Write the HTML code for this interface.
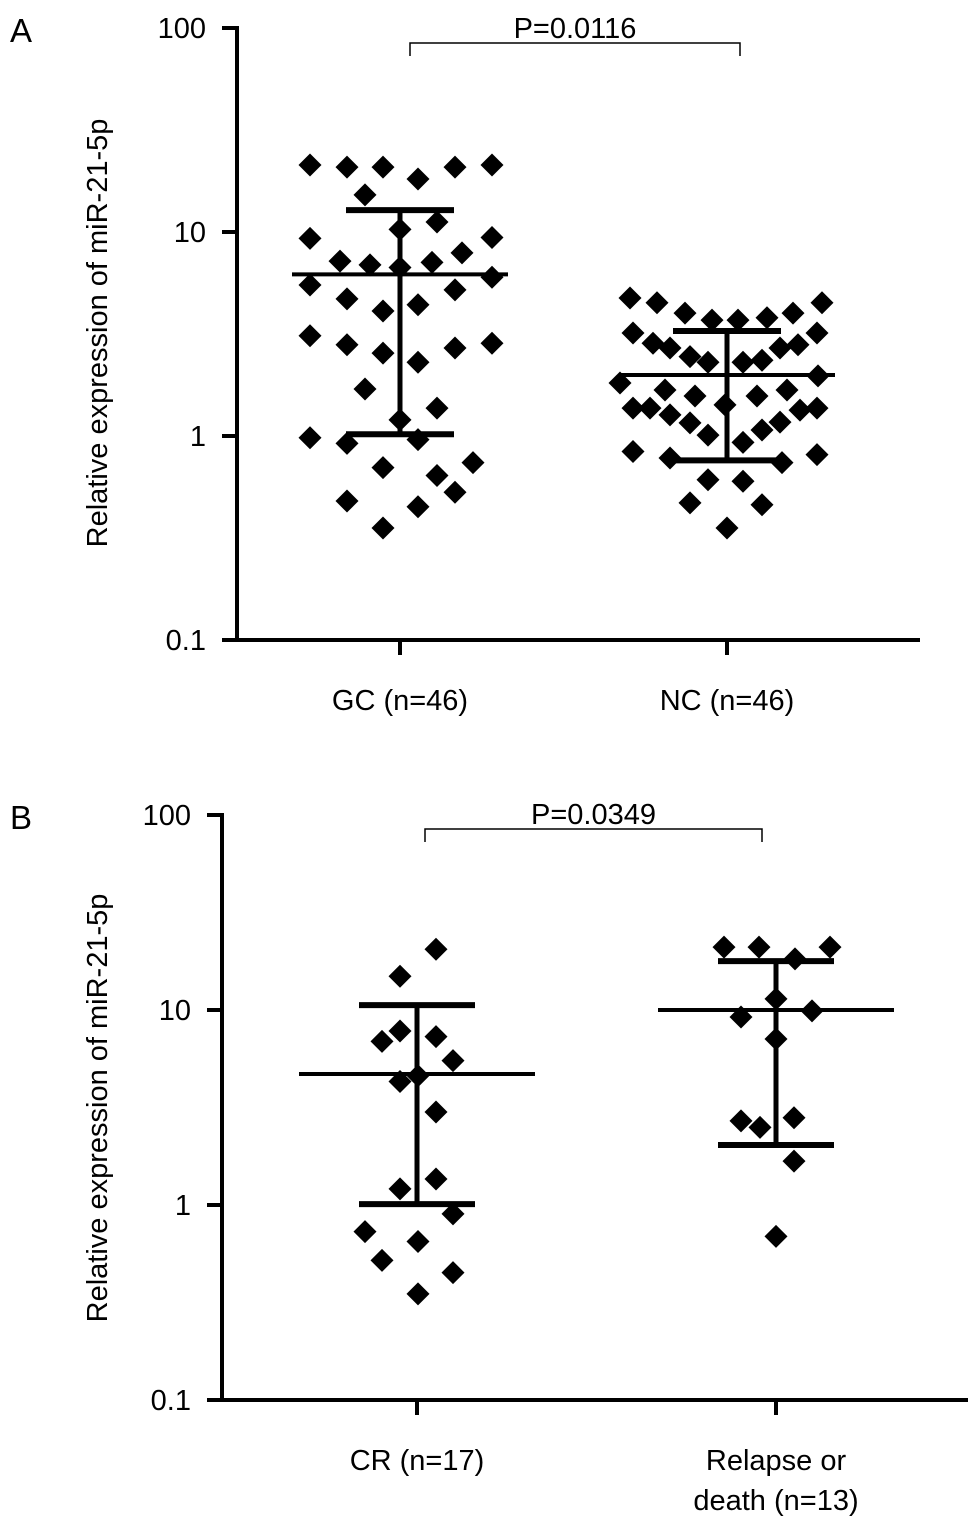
<!DOCTYPE html>
<html><head><meta charset="utf-8"><style>
body{margin:0;background:#fff}
svg{display:block;font-family:"Liberation Sans",Arial,sans-serif}
</style></head><body>
<svg id="fig" width="969" height="1528" viewBox="0 0 969 1528"></svg>
<script>
// Panel A data
const catsA = ["GC (n=46)", "NC (n=46)"];
const gcJitter = [-90,-53,-17,18,55,92,-35,37,0,-90,92,62,-60,-30,0,32,92,-90,55,-53,18,-17,-90,-53,-17,55,92,18,-35,37,0,-90,-53,18,-17,37,73,55,-53,18,-17];
const gcValues = [21.3,20.8,20.8,18.2,20.8,21.3,15.2,11.2,10.3,9.3,9.4,7.9,7.2,6.9,6.7,7.1,6.0,5.5,5.2,4.7,4.4,4.1,3.1,2.8,2.55,2.7,2.85,2.3,1.7,1.37,1.2,0.98,0.92,0.96,0.70,0.64,0.74,0.53,0.48,0.45,0.354];
const ncJitter = [-97,-70,-42,-15,11,40,66,95,-94,-74,-57,-37,-19,16,35,53,71,90,-107,-62,-32,30,60,91,-94,-77,-57,-37,-19,-2,16,35,53,73,90,-94,-57,55,90,-19,16,-37,35,0];
const ncValues = [4.75,4.5,4.0,3.7,3.7,3.8,4.0,4.5,3.2,2.85,2.7,2.45,2.3,2.3,2.35,2.7,2.8,3.2,1.82,1.68,1.57,1.57,1.68,1.97,1.37,1.37,1.27,1.16,1.01,1.42,0.93,1.07,1.17,1.34,1.37,0.84,0.78,0.74,0.81,0.61,0.60,0.47,0.46,0.354];
const summaryA = [[6.2,12.8,1.02],[1.99,3.27,0.76]]; // mean, upper, lower
// Panel B data
const catsB = ["CR (n=17)", "Relapse or|death (n=13)"];
const crJitter = [19,-17,-17,-35,19,36,-17,1,19,19,-17,36,-52,1,-35,36,1];
const crValues = [20.5,14.9,7.8,6.9,7.3,5.5,4.3,4.6,3.0,1.36,1.21,0.90,0.73,0.65,0.52,0.45,0.35];
const rdJitter = [-52,-17,19,54,0,-35,36,0,-35,-16,18,18,0];
const rdValues = [21.0,21.0,18.3,21.0,11.4,9.2,9.9,7.1,2.7,2.5,2.8,1.68,0.69];
const summaryB = [[4.7,10.6,1.01],[10.0,17.8,2.03]];
const yTicks = [100,10,1,0.1];
const yTickLabels = ["100","10","1","0.1"];

const NS="http://www.w3.org/2000/svg";
const svg=document.getElementById('fig');
function mk(tag,attrs,parent){const e=document.createElementNS(NS,tag);for(const k in attrs)e.setAttribute(k,attrs[k]);(parent||svg).appendChild(e);return e;}

function panel(cfg){
  const g=mk('g',{});
  
  
  const y=v=>cfg.y100+(2-Math.log10(v))*cfg.dec;
  const yb=y(0.1);
  const ya=mk('line',{x1:cfg.ax,y1:cfg.y100-2,x2:cfg.ax,y2:yb+2,stroke:'#000','stroke-width':4},g);
  
  
  const xa=mk('line',{x1:cfg.ax-2,y1:yb,x2:cfg.xEnd,y2:yb,stroke:'#000','stroke-width':4},g);
  
  
  yTicks.forEach((t,i)=>{
    const yy=y(t);
    mk('line',{x1:cfg.ax-15,y1:yy,x2:cfg.ax,y2:yy,stroke:'#000','stroke-width':4},g);
    const tx=mk('text',{x:cfg.ax-31,y:yy+10,'text-anchor':'end','font-size':29},g);
    tx.textContent=yTickLabels[i];
    
    
  });
  const tt=mk('text',{x:0,y:0,'text-anchor':'middle','font-size':29,transform:`translate(${cfg.titleX},${cfg.titleY}) rotate(-90)`},g);
  tt.textContent='Relative expression of miR-21-5p';
  
  
  const pl=mk('text',{x:10,y:cfg.y100+14,'font-size':33},g);
  pl.textContent=cfg.letter;
  
  
  cfg.groups.forEach((gr,gi)=>{
    const cx=cfg.cx[gi];
    mk('line',{x1:cx,y1:yb,x2:cx,y2:yb+15,stroke:'#000','stroke-width':4},g);
    const lines=cfg.cats[gi].split('|');
    lines.forEach((ln,li)=>{
      const t=mk('text',{x:cx,y:yb+70+li*40,'text-anchor':'middle','font-size':29},g);
      t.textContent=ln;
      
      
    });
    gr.vals.forEach((v,i)=>{
      const px=cx+gr.jit[i], py=y(v), r=11.5;
      const d=mk('polygon',{points:`${px},${py-r} ${px+r},${py} ${px},${py+r} ${px-r},${py}`,fill:'#000'},g);
      
      
    });
    const s=cfg.summary[gi];
    const m=mk('line',{x1:cx-cfg.mw,y1:y(s[0]),x2:cx+cfg.mw,y2:y(s[0]),stroke:'#000','stroke-width':4},g);
    
    
    const v=mk('line',{x1:cx,y1:y(s[1]),x2:cx,y2:y(s[2]),stroke:'#000','stroke-width':5},g);
    
    
    [s[1],s[2]].forEach(val=>{
      const c=mk('line',{x1:cx-cfg.cw,y1:y(val),x2:cx+cfg.cw,y2:y(val),stroke:'#000','stroke-width':6},g);
      
      
    });
  });
  const b=cfg.bracket;
  const br=mk('polyline',{points:`${b[0]},${b[2]+13} ${b[0]},${b[2]} ${b[1]},${b[2]} ${b[1]},${b[2]+13}`,fill:'none',stroke:'#000','stroke-width':1.5},g);
  
  
  const pt=mk('text',{x:(b[0]+b[1])/2,y:b[2]-5,'text-anchor':'middle','font-size':29},g);
  pt.textContent=cfg.p;
  
  
}

panel({name:'panel-a',letter:'A',ax:237,xEnd:920,y100:28,dec:204,titleX:107,titleY:333,cats:catsA,cx:[400,727],
  groups:[{jit:gcJitter,vals:gcValues},{jit:ncJitter,vals:ncValues}],summary:summaryA,mw:108,cw:54,
  bracket:[410,740,43],p:'P=0.0116'});
panel({name:'panel-b',letter:'B',ax:222,xEnd:968,y100:815,dec:195,titleX:107,titleY:1108,cats:catsB,cx:[417,776],
  groups:[{jit:crJitter,vals:crValues},{jit:rdJitter,vals:rdValues}],summary:summaryB,mw:118,cw:58,
  bracket:[425,762,829],p:'P=0.0349'});
</script>
</body></html>
